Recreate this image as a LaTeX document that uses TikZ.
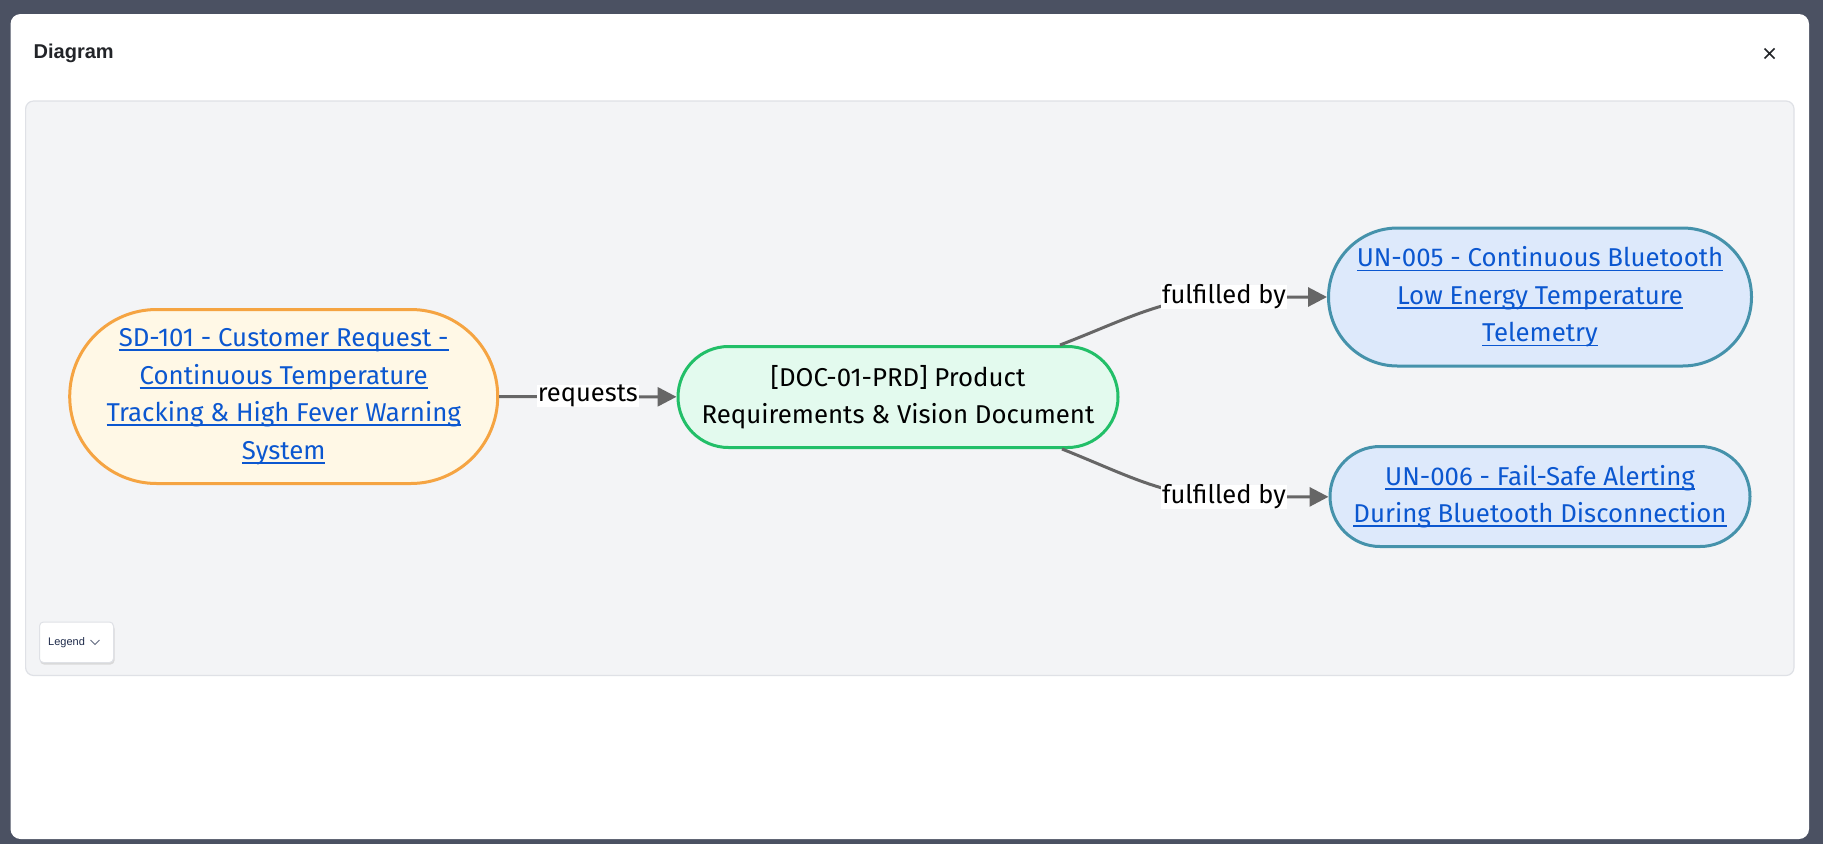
\documentclass[tikz,border=0pt]{standalone}
\usepackage{fontspec}
\setmainfont{Fira Sans}
\newfontfamily\uifont{Liberation Sans}
\usetikzlibrary{arrows.meta,positioning,calc}
\usepackage{xcolor}
\definecolor{backdrop}{HTML}{4B5162}
\definecolor{panelbg}{HTML}{F3F4F6}
\definecolor{panelln}{HTML}{DFE1E6}
\definecolor{titlegray}{HTML}{222428}
\definecolor{sdfill}{HTML}{FFF8E6}
\definecolor{sdline}{HTML}{F5A442}
\definecolor{docfill}{HTML}{E3FAEE}
\definecolor{docline}{HTML}{22BF68}
\definecolor{unfill}{HTML}{DDE9FB}
\definecolor{unline}{HTML}{4592AB}
\definecolor{linkblue}{HTML}{0B57D0}
\definecolor{edgegray}{HTML}{666666}
\definecolor{legendtxt}{HTML}{1E2A4A}
% underlined link text
\newcommand{\lnk}[1]{\setbox0\hbox{#1}\rlap{\rule[-4.5pt]{\wd0}{1.8pt}}\box0}

\begin{document}
\begin{tikzpicture}[x=1pt,y=-1pt,
  stadium/.style 2 args={draw,line width=3pt,rounded corners=#2pt/2,minimum width=#1pt,minimum height=#2pt,
    inner sep=0pt,align=center,font=\fontsize{25.8}{37.5}\selectfont},
  relarrow/.style={draw=edgegray,line width=3pt,-{Triangle[length=19pt,width=19pt]}},
  lbl/.style={fill=white,inner xsep=1pt,inner ysep=0pt,text=black,font=\fontsize{25.5}{30}\selectfont}]
\useasboundingbox (0,0) rectangle (1823,844);
\fill[backdrop] (0,0) rectangle (1823,844);
\fill[white,rounded corners=10pt] (10.5,14) rectangle (1809,839);
\filldraw[fill=panelbg,draw=panelln,line width=1.2pt,rounded corners=8pt] (25.6,101) rectangle (1794,675.5);
\node (title) [anchor=west,inner sep=0pt,text=titlegray,font=\uifont\bfseries\fontsize{20}{24}\selectfont] at (33.5,53.5) {Diagram};
\draw[titlegray,line width=1.5pt] (1764.5,48.5) -- (1774.5,58.5) (1764.5,58.5) -- (1774.5,48.5);

\node (sd) [stadium={428}{174},fill=sdfill,draw=sdline,text=linkblue] at (283.7,396.5)
  {\lnk{SD-101 - Customer Request -}\\\lnk{Continuous Temperature}\\\lnk{Tracking \& High Fever Warning}\\\lnk{System}};
\node (doc) [stadium={440}{101},fill=docfill,draw=docline] at (898,397)
  {[DOC-01-PRD] Product\\Requirements \& Vision Document};
\node (un5) [stadium={423}{138},fill=unfill,draw=unline,text=linkblue] at (1540,297)
  {\lnk{UN-005 - Continuous Bluetooth}\\\lnk{Low Energy Temperature}\\\lnk{Telemetry}};
\node (un6) [stadium={420}{100},fill=unfill,draw=unline,text=linkblue] at (1540,496.5)
  {\lnk{UN-006 - Fail-Safe Alerting}\\\lnk{During Bluetooth Disconnection}};

\draw[relarrow] (sd) -- node[lbl,yshift=1pt]{requests} (doc);
\draw[relarrow] ([xshift=162pt]doc.north) .. controls (1125,320) and (1165,297) .. (1224,297) node[lbl]{fulfilled by} -- (un5);
\draw[relarrow] ([xshift=164pt]doc.south) .. controls (1125,474) and (1165,497) .. (1224,497) node[lbl]{fulfilled by} -- (un6);

% legend button
\fill[black!15,rounded corners=4pt] (40,624.5) rectangle (114.5,664.5);
\filldraw[fill=white,draw=panelln,line width=1pt,rounded corners=4pt] (39.5,622) rectangle (113.5,662.5);
\node (legend) [anchor=west,inner sep=0pt,text=legendtxt,font=\uifont\fontsize{11}{13}\selectfont] at (48,642.5) {Legend};
\draw[legendtxt!70,line width=1pt] (90.5,640) -- (95,644.5) -- (99.5,640);
\end{tikzpicture}
\end{document}
